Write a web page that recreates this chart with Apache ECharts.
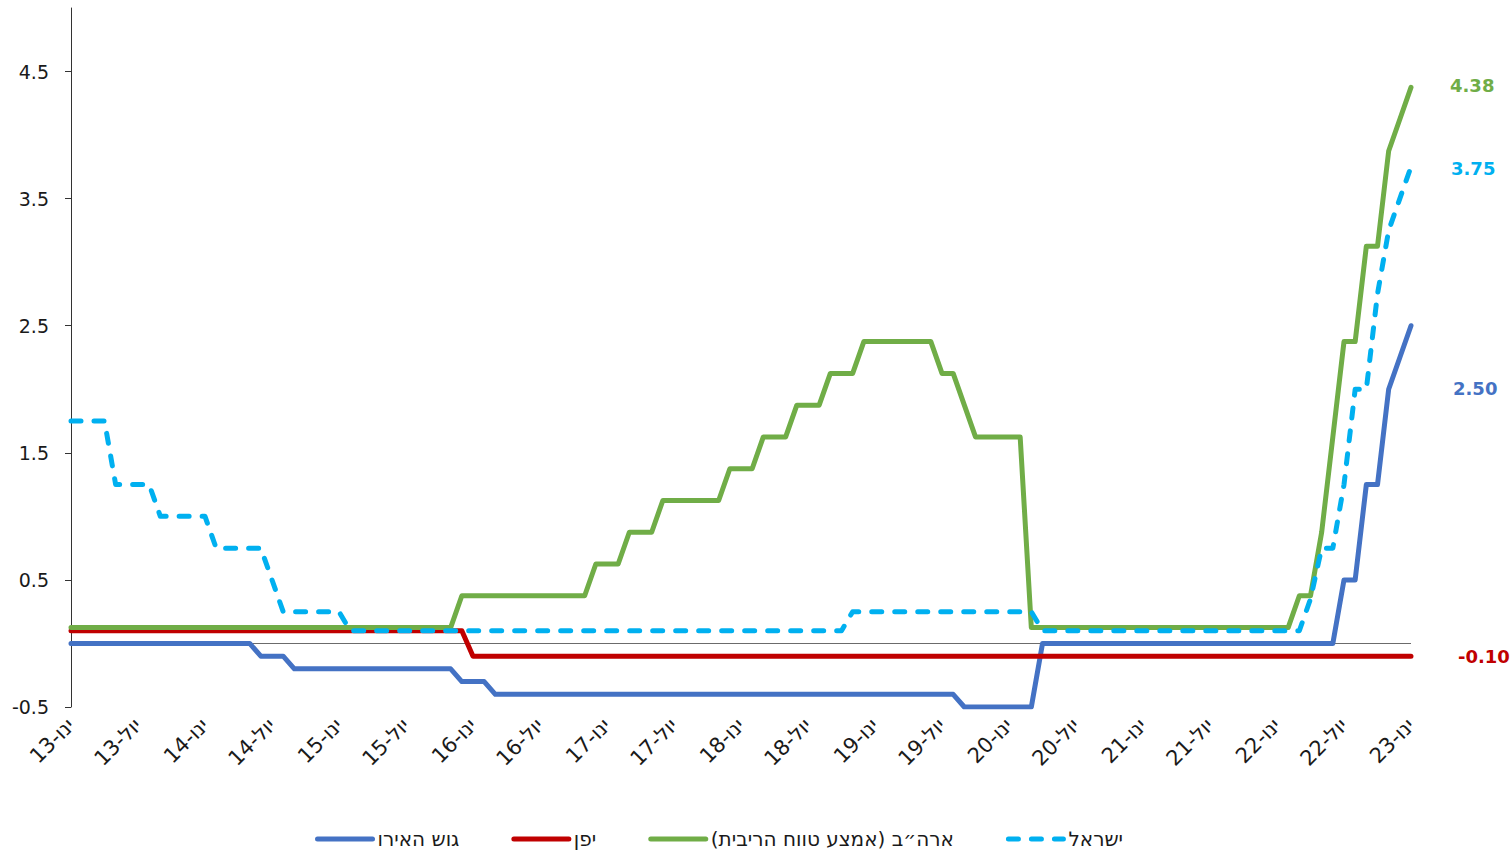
<!DOCTYPE html>
<html>
<head>
<meta charset="utf-8">
<script src="https://cdn.jsdelivr.net/npm/echarts@6/dist/echarts.min.js"></script>
<style>
html,body{margin:0;padding:0;background:#fff;}
#chart{width:1512px;height:852px;}
</style>
</head>
<body>
<div id="chart"></div>
<script>
// Monthly categories Jan-2013 .. Jan-2023
const startYear = 2013, endYear = 2023;
const monthNames = { 1: 'ינו', 7: 'יול' };
const categories = [];
for (let y = startYear; y <= endYear; y++) {
  for (let m = 1; m <= 12; m++) {
    if (y === endYear && m > 1) break;
    categories.push(y + '-' + (m < 10 ? '0' + m : m));
  }
}

const seriesNames = ['גוש האירו', 'יפן', 'ארה״ב (אמצע טווח הריבית)', 'ישראל'];
const seriesColors = ['#4472C4', '#C00000', '#70AD47', '#00B0F0'];

// Euro area
const euroArea = [
  0,0,0,0,0,0,0,0,0,0,0,0,
  0,0,0,0,0,-0.1,-0.1,-0.1,-0.2,-0.2,-0.2,-0.2,
  -0.2,-0.2,-0.2,-0.2,-0.2,-0.2,-0.2,-0.2,-0.2,-0.2,-0.2,-0.3,
  -0.3,-0.3,-0.4,-0.4,-0.4,-0.4,-0.4,-0.4,-0.4,-0.4,-0.4,-0.4,
  -0.4,-0.4,-0.4,-0.4,-0.4,-0.4,-0.4,-0.4,-0.4,-0.4,-0.4,-0.4,
  -0.4,-0.4,-0.4,-0.4,-0.4,-0.4,-0.4,-0.4,-0.4,-0.4,-0.4,-0.4,
  -0.4,-0.4,-0.4,-0.4,-0.4,-0.4,-0.4,-0.4,-0.5,-0.5,-0.5,-0.5,
  -0.5,-0.5,-0.5,0,0,0,0,0,0,0,0,0,
  0,0,0,0,0,0,0,0,0,0,0,0,
  0,0,0,0,0,0,0.5,0.5,1.25,1.25,2.0,2.25,
  2.5
];
// Japan
const japan = [
  0.1,0.1,0.1,0.1,0.1,0.1,0.1,0.1,0.1,0.1,0.1,0.1,
  0.1,0.1,0.1,0.1,0.1,0.1,0.1,0.1,0.1,0.1,0.1,0.1,
  0.1,0.1,0.1,0.1,0.1,0.1,0.1,0.1,0.1,0.1,0.1,0.1,
  -0.1,-0.1,-0.1,-0.1,-0.1,-0.1,-0.1,-0.1,-0.1,-0.1,-0.1,-0.1,
  -0.1,-0.1,-0.1,-0.1,-0.1,-0.1,-0.1,-0.1,-0.1,-0.1,-0.1,-0.1,
  -0.1,-0.1,-0.1,-0.1,-0.1,-0.1,-0.1,-0.1,-0.1,-0.1,-0.1,-0.1,
  -0.1,-0.1,-0.1,-0.1,-0.1,-0.1,-0.1,-0.1,-0.1,-0.1,-0.1,-0.1,
  -0.1,-0.1,-0.1,-0.1,-0.1,-0.1,-0.1,-0.1,-0.1,-0.1,-0.1,-0.1,
  -0.1,-0.1,-0.1,-0.1,-0.1,-0.1,-0.1,-0.1,-0.1,-0.1,-0.1,-0.1,
  -0.1,-0.1,-0.1,-0.1,-0.1,-0.1,-0.1,-0.1,-0.1,-0.1,-0.1,-0.1,
  -0.1
];
// USA (mid of target range)
const usa = [
  0.125,0.125,0.125,0.125,0.125,0.125,0.125,0.125,0.125,0.125,0.125,0.125,
  0.125,0.125,0.125,0.125,0.125,0.125,0.125,0.125,0.125,0.125,0.125,0.125,
  0.125,0.125,0.125,0.125,0.125,0.125,0.125,0.125,0.125,0.125,0.125,0.375,
  0.375,0.375,0.375,0.375,0.375,0.375,0.375,0.375,0.375,0.375,0.375,0.625,
  0.625,0.625,0.875,0.875,0.875,1.125,1.125,1.125,1.125,1.125,1.125,1.375,
  1.375,1.375,1.625,1.625,1.625,1.875,1.875,1.875,2.125,2.125,2.125,2.375,
  2.375,2.375,2.375,2.375,2.375,2.375,2.125,2.125,1.875,1.625,1.625,1.625,
  1.625,1.625,0.125,0.125,0.125,0.125,0.125,0.125,0.125,0.125,0.125,0.125,
  0.125,0.125,0.125,0.125,0.125,0.125,0.125,0.125,0.125,0.125,0.125,0.125,
  0.125,0.125,0.375,0.375,0.875,1.625,2.375,2.375,3.125,3.125,3.875,4.125,
  4.375
];
// Israel
const israel = [
  1.75,1.75,1.75,1.75,1.25,1.25,1.25,1.25,1.0,1.0,1.0,1.0,
  1.0,0.75,0.75,0.75,0.75,0.75,0.5,0.25,0.25,0.25,0.25,0.25,
  0.25,0.1,0.1,0.1,0.1,0.1,0.1,0.1,0.1,0.1,0.1,0.1,
  0.1,0.1,0.1,0.1,0.1,0.1,0.1,0.1,0.1,0.1,0.1,0.1,
  0.1,0.1,0.1,0.1,0.1,0.1,0.1,0.1,0.1,0.1,0.1,0.1,
  0.1,0.1,0.1,0.1,0.1,0.1,0.1,0.1,0.1,0.1,0.25,0.25,
  0.25,0.25,0.25,0.25,0.25,0.25,0.25,0.25,0.25,0.25,0.25,0.25,
  0.25,0.25,0.25,0.1,0.1,0.1,0.1,0.1,0.1,0.1,0.1,0.1,
  0.1,0.1,0.1,0.1,0.1,0.1,0.1,0.1,0.1,0.1,0.1,0.1,
  0.1,0.1,0.1,0.35,0.75,0.75,1.25,2.0,2.0,2.75,3.25,3.5,
  3.75
];

const yTicks = [-0.5, 0.5, 1.5, 2.5, 3.5, 4.5];
const endLabelOffsets = [[37, 63], [42, 0], [34, -2], [35, 2]];

const chart = echarts.init(document.getElementById('chart'), null, { renderer: 'svg' });
const values = [euroArea, japan, usa, israel];

const series = values.map((data, i) => ({
  name: seriesNames[i],
  type: 'line',
  data: data,
  symbol: 'none',
  showSymbol: false,
  z: 3 + i,
  lineStyle: {
    color: seriesColors[i],
    width: 5,
    type: i === 3 ? [10, 13] : 'solid',
    cap: 'round',
    join: 'round'
  },
  itemStyle: { color: seriesColors[i] },
  endLabel: {
    show: true,
    distance: 5,
    offset: endLabelOffsets[i],
    formatter: p => Number(p.value).toFixed(2),
    color: seriesColors[i],
    fontFamily: 'DejaVu Sans',
    fontWeight: 'bold',
    fontSize: 18
  },
  emphasis: { disabled: true },
  markLine: i === 0 ? {
    silent: true,
    symbol: 'none',
    label: { show: false },
    lineStyle: { color: '#6b6b6b', width: 1, type: 'solid' },
    data: [{ yAxis: 0 }],
    z: 1
  } : undefined
}));

chart.setOption({
  animation: false,
  backgroundColor: '#ffffff',
  grid: { left: 71, right: 101, top: 8, bottom: 145, containLabel: false },
  legend: {
    data: seriesNames,
    left: 310,
    top: 824,
    itemWidth: 55,
    itemHeight: 14,
    itemGap: 52,
    itemStyle: { opacity: 0 },
    lineStyle: { width: 5, cap: 'round' },
    textStyle: { fontFamily: 'DejaVu Sans', fontSize: 20, lineHeight: 20, color: '#1a1a1a', padding: [0, 0, 0, 0] }
  },
  xAxis: {
    type: 'category',
    data: categories,
    boundaryGap: false,
    axisLine: { show: false },
    axisTick: { show: false },
    splitLine: { show: false },
    axisLabel: {
      interval: 5,
      rotate: 45,
      margin: 15,
      fontFamily: 'DejaVu Sans',
      fontSize: 21,
      color: '#1a1a1a',
      formatter: v => {
        const parts = v.split('-');
        const m = parseInt(parts[1], 10);
        return parts[0].slice(2) + '-' + (monthNames[m] || '');
      }
    }
  },
  yAxis: {
    type: 'value',
    min: -0.5,
    max: 5,
    interval: 1,
    axisLine: { show: true, lineStyle: { color: '#333', width: 1 } },
    axisTick: { show: true, length: 6, customValues: yTicks, lineStyle: { color: '#333' } },
    splitLine: { show: false },
    axisLabel: {
      customValues: yTicks,
      margin: 22,
      fontFamily: 'DejaVu Sans',
      fontSize: 19,
      color: '#1a1a1a',
      formatter: v => String(v)
    }
  },
  series: series
});
</script>
</body>
</html>
